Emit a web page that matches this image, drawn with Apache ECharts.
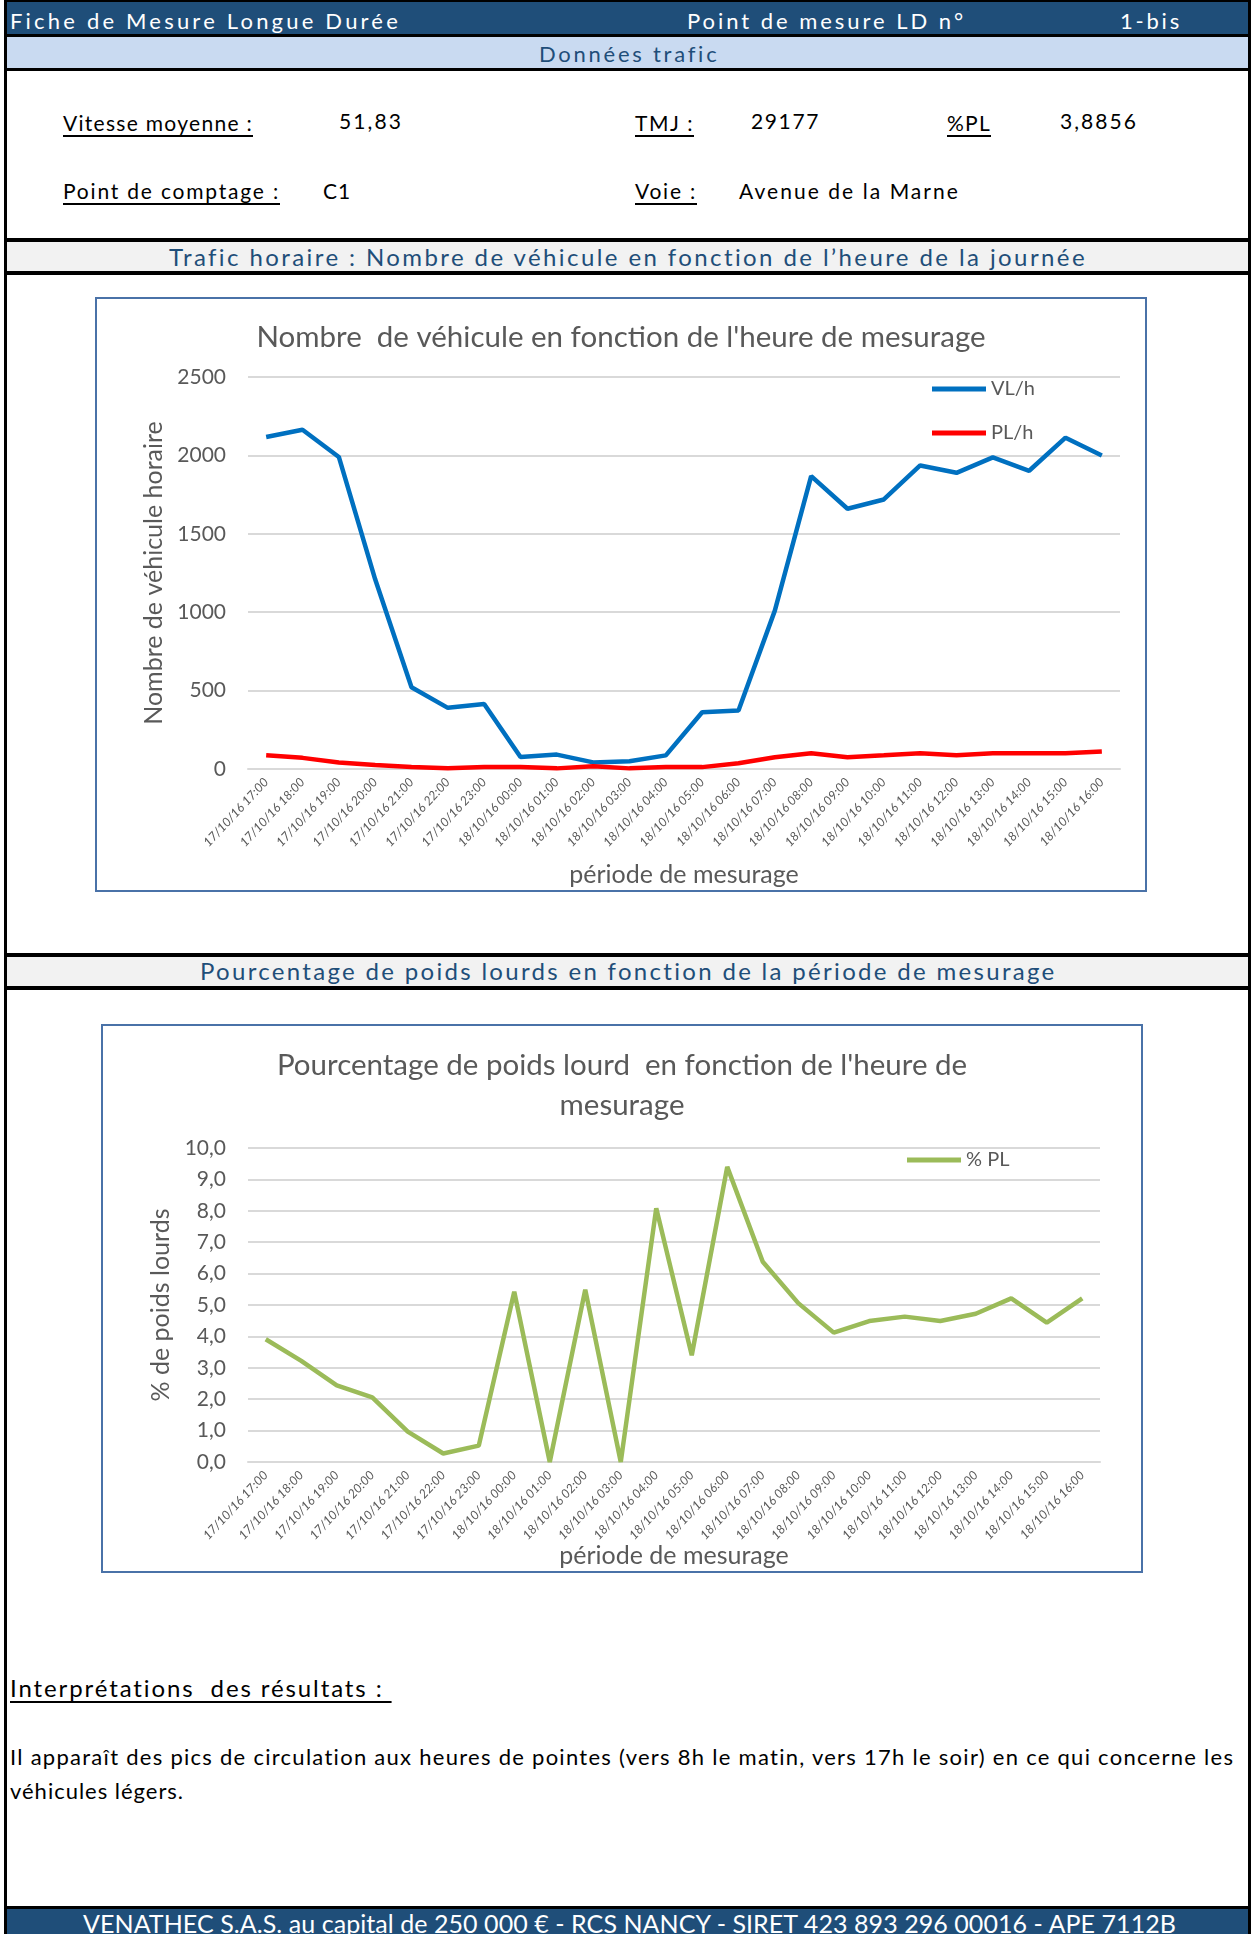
<!DOCTYPE html>
<html>
<head>
<meta charset="utf-8">
<script src="https://cdn.jsdelivr.net/npm/echarts@6/dist/echarts.min.js"></script>
<style>
    body { margin: 0; width: 1252px; height: 1934px; position: relative; overflow: hidden; background: #fff; font-family: Lato, "Noto Sans", sans-serif; }
    .band { position: absolute; left: 4px; width: 1247px; }
    .blk { background: #000; }
    .t { position: absolute; white-space: nowrap; line-height: 1; }
    .u { text-decoration: underline; text-underline-offset: 4px; text-decoration-thickness: 1.5px; }
    .chart { position: absolute; box-sizing: border-box; border: 2px solid #4a72a8; background: #fff; }
</style>
</head>
<body>
<!-- bandeaux -->
<div class="band blk" style="top:0;height:2px"></div>
<div class="band" style="top:2px;height:32px;background:#1f4e79"></div>
<div class="band blk" style="top:34px;height:3px"></div>
<div class="band" style="top:37px;height:31px;background:#c9daf1"></div>
<div class="band blk" style="top:68px;height:3px"></div>
<div class="band blk" style="top:238px;height:4px"></div>
<div class="band" style="top:242px;height:29px;background:#f2f2f2"></div>
<div class="band blk" style="top:271px;height:4px"></div>
<div class="band blk" style="top:953px;height:4px"></div>
<div class="band" style="top:957px;height:29px;background:#f2f2f2"></div>
<div class="band blk" style="top:986px;height:4px"></div>
<div class="band blk" style="top:1906px;height:3px"></div>
<div class="band" style="top:1909px;height:25px;background:#1f4e79"></div>
<div class="blk" style="position:absolute;left:4px;top:0;width:3px;height:1934px"></div>
<div class="blk" style="position:absolute;left:1248px;top:0;width:3px;height:1934px"></div>

<!-- textes -->
<div class="t" data-w="391" style="left:10px;top:10px;font-size:22px;color:#fff">Fiche de Mesure Longue Durée</div>
<div class="t" data-w="279" style="left:687px;top:10px;font-size:22px;color:#fff">Point de mesure LD n°</div>
<div class="t" data-w="62" style="left:1120px;top:10px;font-size:22px;color:#fff">1-bis</div>
<div class="t" data-w="180" style="left:539px;top:43px;font-size:22px;color:#1f4e79">Données trafic</div>

<div class="t u" data-w="190" style="left:63px;top:112px;font-size:21px">Vitesse moyenne :</div>
<div class="t" data-w="64" style="left:339px;top:110px;font-size:21px">51,83</div>
<div class="t u" data-w="59" style="left:635px;top:112px;font-size:21px">TMJ :</div>
<div class="t" data-w="69" style="left:751px;top:110px;font-size:21px">29177</div>
<div class="t u" data-w="44" style="left:947px;top:112px;font-size:21px">%PL</div>
<div class="t" data-w="78" style="left:1060px;top:110px;font-size:21px">3,8856</div>
<div class="t u" data-w="217" style="left:63px;top:180px;font-size:21px">Point de comptage :</div>
<div class="t" data-w="28" style="left:323px;top:180px;font-size:21px">C1</div>
<div class="t u" data-w="62" style="left:635px;top:180px;font-size:21px">Voie :</div>
<div class="t" data-w="221" style="left:739px;top:180px;font-size:21px">Avenue de la Marne</div>

<div class="t" data-w="918" style="left:169px;top:245px;font-size:24px;color:#1f4e79">Trafic horaire : Nombre de véhicule en fonction de l’heure de la journée</div>
<div class="t" data-w="857" style="left:200px;top:959px;font-size:24px;color:#1f4e79">Pourcentage de poids lourds en fonction de la période de mesurage</div>

<div class="t u" data-w="382" style="left:10px;top:1676px;font-size:24px">Interprétations&nbsp; des résultats :&nbsp;</div>
<div class="t" data-w="1225" style="left:10px;top:1746px;font-size:22px">Il apparaît des pics de circulation aux heures de pointes (vers 8h le matin, vers 17h le soir) en ce qui concerne les</div>
<div class="t" data-w="174" style="left:10px;top:1780px;font-size:22px">véhicules légers.</div>

<div class="t" data-w="1093" style="left:83px;top:1911px;font-size:25px;color:#fff">VENATHEC S.A.S. au capital de 250 000 € - RCS NANCY - SIRET 423 893 296 00016 - APE 7112B</div>

<!-- graphiques -->
<div class="chart" id="chartTrafic" style="left:95px;top:297px;width:1052px;height:595px"></div>
<div class="chart" id="chartPL" style="left:101px;top:1024px;width:1042px;height:549px"></div>

<script>
// périodes de mesure
var hours = [
    '17/10/16 17:00', '17/10/16 18:00', '17/10/16 19:00', '17/10/16 20:00',
    '17/10/16 21:00', '17/10/16 22:00', '17/10/16 23:00', '18/10/16 00:00',
    '18/10/16 01:00', '18/10/16 02:00', '18/10/16 03:00', '18/10/16 04:00',
    '18/10/16 05:00', '18/10/16 06:00', '18/10/16 07:00', '18/10/16 08:00',
    '18/10/16 09:00', '18/10/16 10:00', '18/10/16 11:00', '18/10/16 12:00',
    '18/10/16 13:00', '18/10/16 14:00', '18/10/16 15:00', '18/10/16 16:00'
];
// véhicules légers / heure
var vlPerHour = [2117, 2164, 1990, 1210, 521, 390, 415, 77, 92, 42, 50, 87,
    362, 373, 1010, 1868, 1660, 1719, 1936, 1889, 1987, 1902, 2113, 2000];
// poids lourds / heure
var plPerHour = [87, 71, 42, 25, 12, 4, 12, 12, 4, 17, 4, 12,
    12, 37, 75, 100, 75, 87, 100, 87, 100, 100, 100, 112];
// % PL
var pctPL = [3.91, 3.22, 2.44, 2.06, 0.97, 0.27, 0.52, 5.42, 0, 5.49, 0, 8.08,
    3.40, 9.40, 6.38, 5.06, 4.12, 4.49, 4.63, 4.49, 4.72, 5.21, 4.44, 5.21];
// graduations
var trafficTicks = [0, 500, 1000, 1500, 2000, 2500];
var pctTicks = [0, 1, 2, 3, 4, 5, 6, 7, 8, 9, 10];

var FONT = 'Lato, "Noto Sans", sans-serif';
var GREY = '#595959';

// ajuste l'espacement des lettres pour coller à la largeur voulue
document.querySelectorAll('[data-w]').forEach(function(el) {
    var target = +el.getAttribute('data-w');
    var w = el.getBoundingClientRect().width;
    var n = el.textContent.length;
    el.style.letterSpacing = ((target - w) / n) + 'px';
});

function xAxisOpt(gap) {
    return {
        type: 'category',
        data: hours,
        boundaryGap: true,
        name: 'période de mesurage',
        nameLocation: 'middle',
        nameGap: gap,
        nameMoveOverlap: false,
        nameTextStyle: { color: GREY, fontSize: 25, fontFamily: FONT },
        axisLine: { lineStyle: { color: '#d9d9d9', width: 2 } },
        axisTick: { show: false },
        axisLabel: {
            rotate: 47,
            interval: 0,
            margin: 11,
            color: GREY,
            fontSize: 12.5,
            fontStyle: 'italic',
            fontFamily: FONT
        }
    };
}

function legendOpt(left, top, names) {
    return {
        orient: 'vertical',
        left: left,
        top: top,
        icon: 'rect',
        itemWidth: 54,
        itemHeight: 5,
        itemGap: 24,
        itemTextGap: 4,
        textStyle: { color: GREY, fontSize: 20, fontFamily: FONT },
        data: names
    };
}

var chartTrafic = echarts.init(document.getElementById('chartTrafic'));
chartTrafic.setOption({
    animation: false,
    title: {
        text: 'Nombre  de véhicule en fonction de l\'heure de mesurage',
        left: 'center',
        top: 18,
        textStyle: { color: GREY, fontSize: 29.5, fontWeight: 'normal', fontFamily: FONT }
    },
    legend: legendOpt(830, 75, ['VL/h', 'PL/h']),
    grid: { left: 151, right: 25, top: 78, bottom: 121, outerBoundsMode: 'none' },
    xAxis: xAxisOpt(93),
    yAxis: {
        type: 'value',
        min: trafficTicks[0],
        max: trafficTicks[trafficTicks.length - 1],
        interval: trafficTicks[1] - trafficTicks[0],
        name: 'Nombre de véhicule horaire',
        nameLocation: 'middle',
        nameGap: 81,
        nameTextStyle: { color: GREY, fontSize: 25, fontFamily: FONT },
        axisLabel: {
            color: GREY,
            fontSize: 21,
            margin: 22,
            fontFamily: FONT,
            formatter: function(v) {
                return String(v);
            }
        },
        splitLine: { lineStyle: { color: '#d9d9d9', width: 2 } }
    },
    series: [
        {
            name: 'VL/h',
            type: 'line',
            data: vlPerHour,
            showSymbol: false,
            itemStyle: { color: '#0070c0' },
            lineStyle: { color: '#0070c0', width: 4.5 }
        },
        {
            name: 'PL/h',
            type: 'line',
            data: plPerHour,
            showSymbol: false,
            itemStyle: { color: '#ff0000' },
            lineStyle: { color: '#ff0000', width: 4.5 }
        }
    ]
});

var chartPL = echarts.init(document.getElementById('chartPL'));
chartPL.setOption({
    animation: false,
    title: {
        text: 'Pourcentage de poids lourd  en fonction de l\'heure de\nmesurage',
        left: 'center',
        top: 14,
        textStyle: { color: GREY, fontSize: 29.5, lineHeight: 40, fontWeight: 'normal', fontFamily: FONT }
    },
    legend: legendOpt(799, 119, ['% PL']),
    grid: { left: 145, right: 41, top: 122, bottom: 109, outerBoundsMode: 'none' },
    xAxis: xAxisOpt(81),
    yAxis: {
        type: 'value',
        min: pctTicks[0],
        max: pctTicks[pctTicks.length - 1],
        interval: pctTicks[1] - pctTicks[0],
        name: '% de poids lourds',
        nameLocation: 'middle',
        nameGap: 75,
        nameTextStyle: { color: GREY, fontSize: 25, fontFamily: FONT },
        axisLabel: {
            color: GREY,
            fontSize: 21,
            margin: 22,
            fontFamily: FONT,
            formatter: function(v) {
                return v.toFixed(1).replace('.', ',');
            }
        },
        splitLine: { lineStyle: { color: '#d9d9d9', width: 2 } }
    },
    series: [
        {
            name: '% PL',
            type: 'line',
            data: pctPL,
            showSymbol: false,
            itemStyle: { color: '#9bbb59' },
            lineStyle: { color: '#9bbb59', width: 4.5 }
        }
    ]
});
</script>
</body>
</html>
